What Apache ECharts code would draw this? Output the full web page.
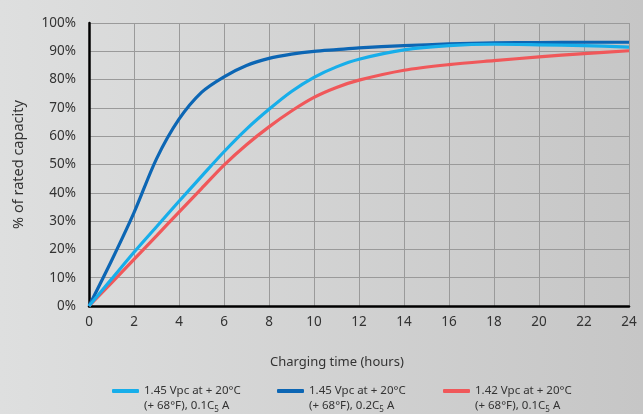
<!DOCTYPE html>
<html>
<head>
<meta charset="utf-8">
<script src="https://cdn.jsdelivr.net/npm/echarts@6/dist/echarts.min.js"></script>
<style>
html,body{margin:0;padding:0;}
#c{width:643px;height:414px;}
</style>
</head>
<body>
<div id="c"></div>
<script>
var hours = [0,1,2,3,4,5,6,7,8,9,10,11,12,14,16,18,20,22,24];
var lightBlue = [0,9.5,19,28,37,45.8,54.5,62.5,69.5,75.8,80.8,84.5,87.2,90.5,92,92.5,92.3,92,91.5];
var darkBlue  = [0,16,33,52,66,75.5,81,85,87.5,89,90,90.6,91.2,92,92.6,93,93.1,93.2,93.2];
var red       = [0,8.2,16.5,24.8,33.2,41.5,49.8,57,63.3,68.9,73.7,77.2,79.8,83.3,85.3,86.7,88,89.2,90.2];
var seriesNames = ['s1','s2','s3'];
var legendLine1 = ['1.45 Vpc at + 20°C','1.45 Vpc at + 20°C','1.42 Vpc at + 20°C'];
var legendLine2 = ['(+ 68°F), 0.1C','(+ 68°F), 0.2C','(+ 68°F), 0.1C'];
var colors = ['#17aeea','#0c66b4','#f0585a'];
var values = [lightBlue, darkBlue, red];

function pairs(v){ return hours.map(function(h,i){ return [h, v[i]]; }); }

var chart = echarts.init(document.getElementById('c'));
var legendLefts = [107, 272, 438];
var legends = seriesNames.map(function(n, i){
  return {
    data: [n], left: legendLefts[i], top: 380, itemWidth: 27, itemHeight: 4,
    icon: 'roundRect', itemGap: 6,
    formatter: function(){ return '{a|' + legendLine1[i] + '}\n{a|' + legendLine2[i] + '}{s|5}{a| A}'; },
    textStyle: {
      padding: [15,0,0,0],
      rich: {
        a: {fontFamily: 'Noto Sans', fontSize: 11.5, color: '#333', lineHeight: 15},
        s: {fontFamily: 'Noto Sans', fontSize: 8, color: '#333', lineHeight: 15, verticalAlign: 'bottom', padding: [6,0,0,0]}
      }
    }
  };
});

chart.setOption({
  backgroundColor: {
    type: 'linear', x: 0, y: 0, x2: 1, y2: 0,
    colorStops: [{offset: 0, color: '#dedfdf'}, {offset: 1, color: '#c6c6c6'}]
  },
  animation: false,
  grid: {left: 89, right: 14, top: 23, bottom: 108, containLabel: false},
  legend: legends,
  graphic: [{
    type: 'text', left: 270, top: 356,
    style: {text: 'Charging time (hours)', fontFamily: 'Noto Sans', fontSize: 13, fill: '#333'}
  }],
  xAxis: {
    type: 'value', min: 0, max: 24, interval: 2,
    axisLine: {show: true, onZero: false, lineStyle: {color: '#000', width: 2.5}},
    axisTick: {show: false},
    axisLabel: {fontFamily: 'Noto Sans', fontSize: 13.5, color: '#333', margin: 9},
    splitLine: {show: true, lineStyle: {color: '#9a9a9a', width: 1}}
  },
  yAxis: {
    type: 'value', min: 0, max: 100, interval: 10,
    name: '% of rated capacity', nameLocation: 'middle', nameGap: 63,
    nameTextStyle: {fontFamily: 'Noto Sans', fontSize: 14.5, color: '#333'},
    axisLine: {show: true, lineStyle: {color: '#000', width: 2.5}},
    axisTick: {show: false},
    axisLabel: {formatter: '{value}%', fontFamily: 'Noto Sans', fontSize: 13.5, color: '#333', margin: 13},
    splitLine: {show: true, lineStyle: {color: '#9a9a9a', width: 1}}
  },
  series: seriesNames.map(function(n, i){
    return {
      name: n, type: 'line', smooth: 0.3, showSymbol: false,
      data: pairs(values[i]),
      lineStyle: {color: colors[i], width: 3.2},
      itemStyle: {color: colors[i]},
      z: i === 0 ? 4 : (i === 1 ? 3 : 2)
    };
  })
});
</script>
</body>
</html>
